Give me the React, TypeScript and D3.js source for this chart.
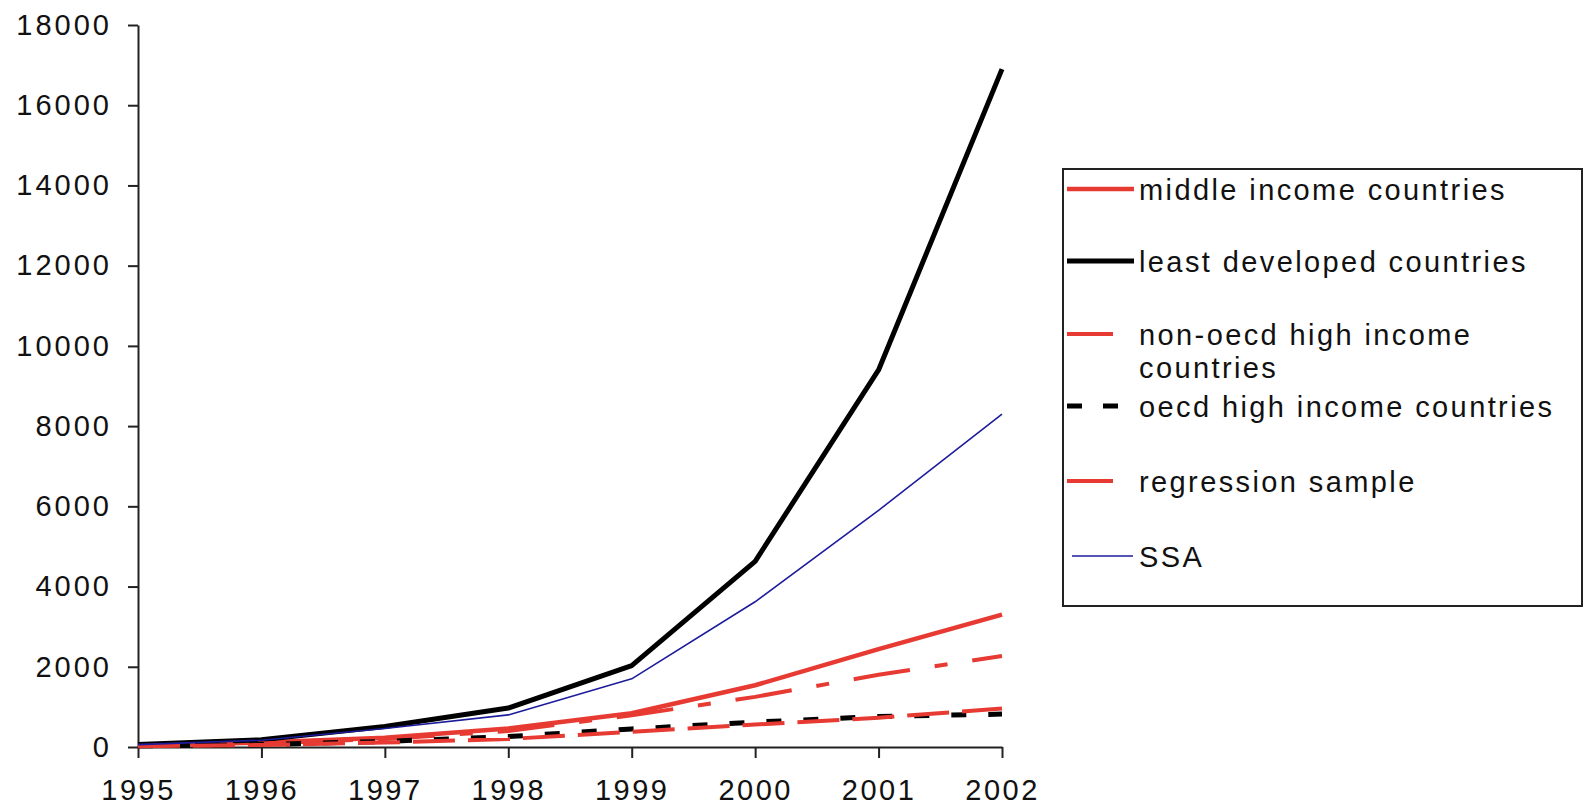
import * as d3 from "d3";
import { useEffect, useRef } from "react";

// values
const years = [1995, 1996, 1997, 1998, 1999, 2000, 2001, 2002];
const middleIncome = [50, 110, 230, 460, 840, 1540, 2440, 3300];
const leastDeveloped = [60, 180, 510, 970, 2030, 4630, 9400, 16900];
const nonOecdHigh = [40, 90, 200, 400, 790, 1250, 1800, 2270];
const oecdHigh = [30, 60, 140, 260, 450, 620, 760, 820];
const regressionSample = [20, 50, 110, 200, 380, 560, 730, 960];
const ssa = [60, 170, 460, 800, 1700, 3620, 5900, 8300];
const yTicks = [0, 2000, 4000, 6000, 8000, 10000, 12000, 14000, 16000, 18000];

const RED = "#e63a32";
const FONT = "'Liberation Sans', Arial, sans-serif";

interface ISeries {
    name: string[];
    values: number[];
    color: string;
    width: number;
    dash?: string;
}

const series: ISeries[] = [
    { name: ["middle income countries"], values: middleIncome, color: RED, width: 4.5 },
    { name: ["least developed countries"], values: leastDeveloped, color: "#000", width: 5 },
    { name: ["non-oecd high income", "countries"], values: nonOecdHigh, color: RED, width: 4, dash: "57 25 13 25" },
    { name: ["oecd high income countries"], values: oecdHigh, color: "#000", width: 5, dash: "15 22" },
    { name: ["regression sample"], values: regressionSample, color: RED, width: 4, dash: "42 13" },
    { name: ["SSA"], values: ssa, color: "#1c1c9c", width: 1.6 },
];

// legend rows: y of the sample line
const legendRows = [189, 261, 334, 406, 481, 556];

function App() {
    const gx = useRef<SVGGElement>(null);
    const gy = useRef<SVGGElement>(null);

    const x = d3.scaleLinear().domain([1995, 2002]).range([138, 1002]);
    const y = d3.scaleLinear().domain([0, 18000]).range([747, 25]);

    const line = d3.line<number>()
        .x((_, i) => x(years[i]))
        .y(d => y(d));

    useEffect(() => {
        const ax = d3.select(gx.current!)
            .call(d3.axisBottom(x).tickValues(years).tickFormat(d3.format("d")).tickSize(11).tickSizeOuter(0).tickPadding(21));
        ax.selectAll("text")
            .style("font-family", FONT)
            .style("font-size", "29px")
            .style("letter-spacing", "2.5px")
            .attr("fill", "#111");
        ax.selectAll("line,path").attr("stroke", "#222").attr("stroke-width", 2);

        const ay = d3.select(gy.current!)
            .call(d3.axisLeft(y).tickValues(yTicks).tickFormat(d3.format("d")).tickSize(10).tickSizeOuter(0).tickPadding(16));
        ay.selectAll("text")
            .style("font-family", FONT)
            .style("font-size", "29px")
            .style("letter-spacing", "3px")
            .attr("fill", "#111");
        ay.selectAll("line,path").attr("stroke", "#222").attr("stroke-width", 2);
    }, [x, y]);

    return (
        <svg width={1587} height={807} style={{ position: "absolute", left: 0, top: 0, background: "#fff" }}>
            <g ref={gx} transform={`translate(0,${y(0)})`} />
            <g ref={gy} transform={`translate(${x(1995)},0)`} />

            <g fill="none">
                {series.map((s, i) => (
                    <path
                        key={i}
                        d={line(s.values) ?? ""}
                        stroke={s.color}
                        strokeWidth={s.width}
                        strokeDasharray={s.dash}
                        strokeLinejoin="round"
                    />
                ))}
            </g>

            {/* legend */}
            <rect x={1063} y={169} width={519} height={437} fill="#fff" stroke="#222" strokeWidth={2} />
            {series.map((s, i) => {
                const ly = legendRows[i];
                const x1 = s.width < 2 ? 1072 : 1067;
                const x2 = s.dash ? (s.color === "#000" ? 1118 : 1113) : (s.width < 2 ? 1133 : 1134);
                return (
                    <g key={i}>
                        <line x1={x1} x2={x2} y1={ly} y2={ly} stroke={s.color} strokeWidth={s.width}
                            strokeDasharray={s.color === "#000" && s.dash ? "15 21" : undefined} />
                        <text x={1139} y={ly + 11} fontFamily={FONT} fontSize={29} letterSpacing={2.4} fill="#111">
                            {s.name.map((t, j) => (
                                <tspan key={j} x={1139} dy={j === 0 ? 0 : 33}>{t}</tspan>
                            ))}
                        </text>
                    </g>
                );
            })}
        </svg>
    );
}

export default App;
